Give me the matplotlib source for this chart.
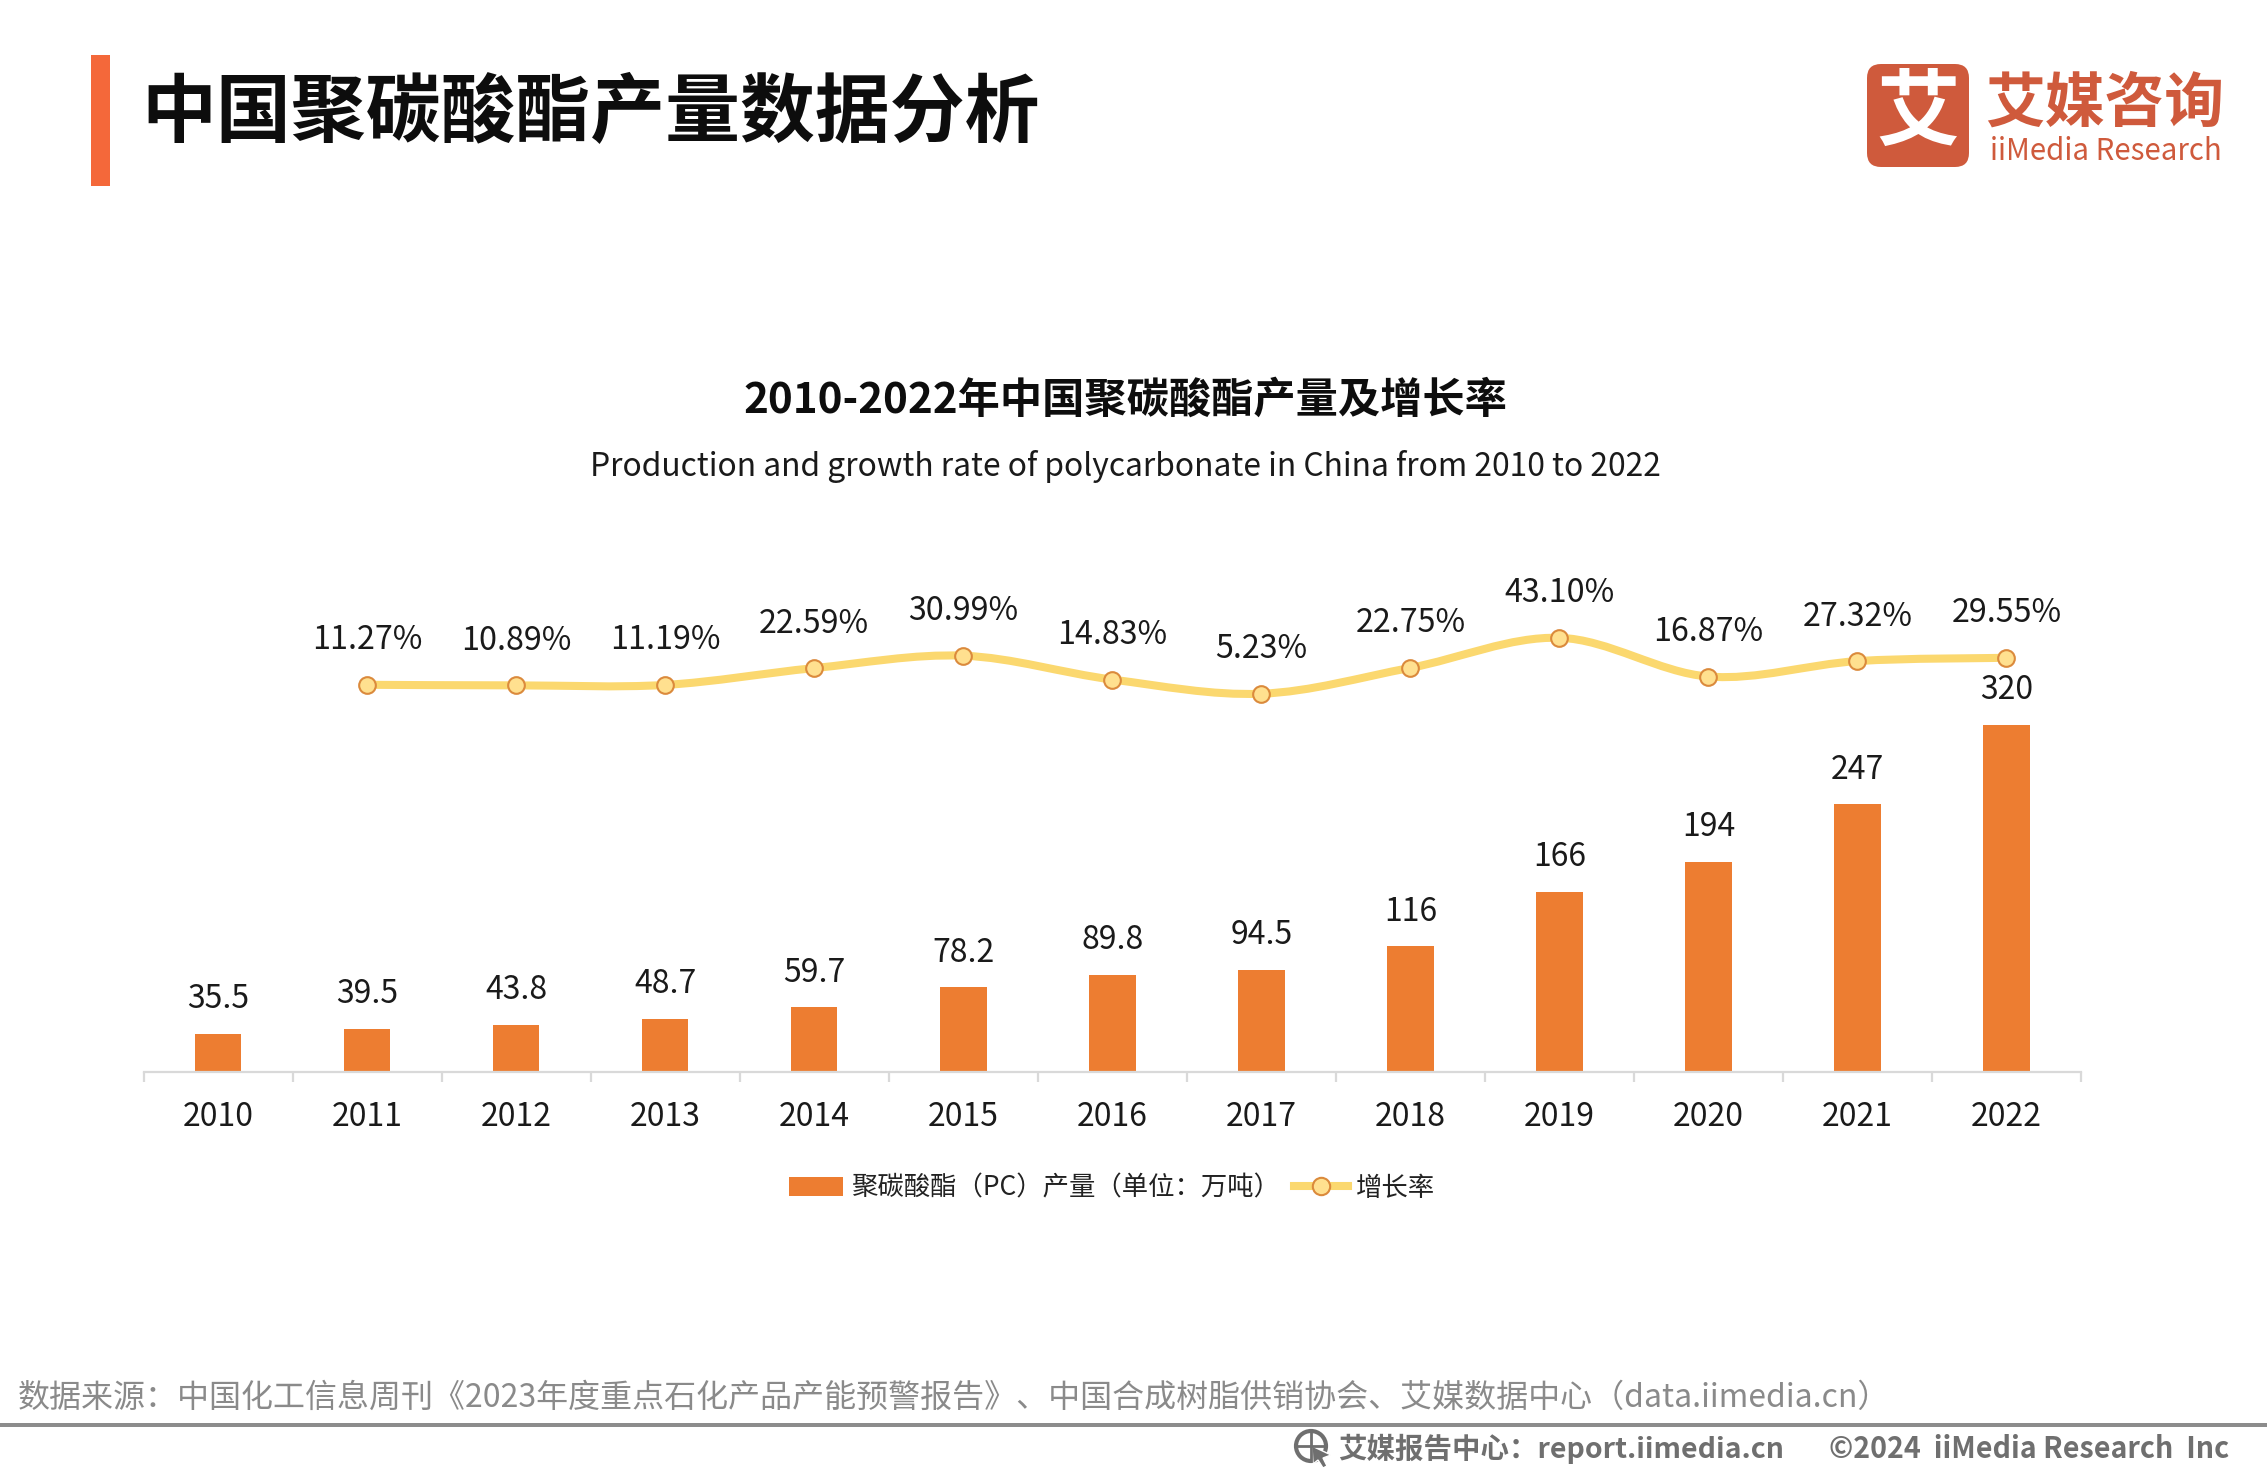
import matplotlib
matplotlib.use("Agg")
import matplotlib.pyplot as plt
import numpy as np
from matplotlib.patches import Rectangle, FancyBboxPatch, Circle, Patch, PathPatch, Polygon
from matplotlib.lines import Line2D
from matplotlib.path import Path

plt.rcParams['font.family'] = ['Noto Sans CJK SC', 'DejaVu Sans']

years = [2010, 2011, 2012, 2013, 2014, 2015, 2016, 2017, 2018, 2019, 2020, 2021, 2022]
output_labels = ['35.5', '39.5', '43.8', '48.7', '59.7', '78.2', '89.8', '94.5', '116', '166', '194', '247', '320']
output_values = [35.5, 39.5, 43.8, 48.7, 59.7, 78.2, 89.8, 94.5, 116, 166, 194, 247, 320]
growth_years = years[1:]
growth_values = [11.27, 10.89, 11.19, 22.59, 30.99, 14.83, 5.23, 22.75, 43.10, 16.87, 27.32, 29.55]
growth_labels = ['11.27%', '10.89%', '11.19%', '22.59%', '30.99%', '14.83%', '5.23%', '22.75%',
                 '43.10%', '16.87%', '27.32%', '29.55%']

W, H = 2267, 1474
BAR = '#ED7D31'
LINE = '#FBD86F'
fig = plt.figure(figsize=(W / 100, H / 100), dpi=100, facecolor='white')

# pixel-aligned chart axes
L, R, T, B = 143.5, 2081, 551, 1072
ax = fig.add_axes([L / W, 1 - B / H, (R - L) / W, (B - T) / H])
ax.set_xlim(-0.5, 12.5)
ax.set_ylim(0, (B - T) / 1.084)
x = np.arange(len(years))
ax.bar(x, output_values, width=0.313, color=BAR, zorder=2)
for xi, v, s in zip(x, output_values, output_labels):
    ax.annotate(s, (xi, v), xytext=(0, 25), textcoords='offset points', ha='center', va='center',
                fontsize=23, color='#1a1a1a', fontweight='light')
for s in ['top', 'left', 'right']:
    ax.spines[s].set_visible(False)
ax.spines['bottom'].set_color('#D9D9D9')
ax.spines['bottom'].set_linewidth(1.6)
ax.set_yticks([])
ax.set_xticks(x)
ax.set_xticklabels([str(y) for y in years], fontsize=23, color='#1a1a1a', fontweight='light')
ax.tick_params(axis='x', which='major', length=0, pad=21)
ax.set_xticks(np.arange(-0.5, 13), minor=True)
ax.tick_params(axis='x', which='minor', length=7, width=1.6, color='#D9D9D9')
ax.patch.set_alpha(0)

ax2 = ax.twinx()
ax2.set_ylim(-251.0, 101.9)
ax2.axis('off')
gx = np.array(growth_years, float) - years[0]
gy = np.array(growth_values, float)
# smooth line: Catmull-Rom segments as cubic Bezier path through the data points
verts = [(gx[0], gy[0])]
codes = [Path.MOVETO]
for i in range(len(gx) - 1):
    p0 = np.array([gx[max(i - 1, 0)], gy[max(i - 1, 0)]])
    p1 = np.array([gx[i], gy[i]])
    p2 = np.array([gx[i + 1], gy[i + 1]])
    p3 = np.array([gx[min(i + 2, len(gx) - 1)], gy[min(i + 2, len(gx) - 1)]])
    verts += [tuple(p1 + (p2 - p0) / 6), tuple(p2 - (p3 - p1) / 6), tuple(p2)]
    codes += [Path.CURVE4] * 3
ax2.add_patch(PathPatch(Path(verts, codes), fill=False, edgecolor=LINE, linewidth=5.8, capstyle='round', zorder=3))
ax2.plot(gx, gy, ls='none', marker='o', ms=12, mfc='#FFE08F', mec='#DB8A3C', mew=1.5, zorder=4)
for xi, v, s in zip(gx, gy, growth_labels):
    ax2.annotate(s, (xi, v), xytext=(0, 32), textcoords='offset points', ha='center', va='center',
                 fontsize=23.2, color='#1a1a1a', fontweight='light')

handles = [Patch(facecolor=BAR, edgecolor='none'),
           Line2D([], [], color=LINE, lw=5.8, marker='o', ms=12.5, mfc='#FFE08F', mec='#DB8A3C', mew=1.5)]
fig.legend(handles, ['聚碳酸酯（PC）产量（单位：万吨）', '增长率'], loc='center',
           bbox_to_anchor=(1112 / W, 1 - 1188 / H), ncol=2, frameon=False,
           handlelength=2.05, handleheight=0.75, handletextpad=0.3, columnspacing=0.5,
           labelcolor='#222222', prop={'size': 19, 'weight': 'light'})

# overlay in pixel coordinates for page furniture
ov = fig.add_axes([0, 0, 1, 1], zorder=5)
ov.set_xlim(0, W)
ov.set_ylim(H, 0)
ov.axis('off')
ov.patch.set_alpha(0)

ov.add_patch(Rectangle((91, 55), 19, 131, facecolor='#F4683A', edgecolor='none'))
ov.text(141, 114.5, '中国聚碳酸酯产量数据分析', fontsize=53.9, fontweight='bold', color='#0d0d0d', ha='left', va='center')

LOGO = '#CF5A3C'
ov.add_patch(FancyBboxPatch((1875, 72), 86, 87, boxstyle='round,pad=8,rounding_size=14', facecolor=LOGO, edgecolor='none'))
ov.text(1918, 114, '艾', fontsize=60, fontweight='bold', color='white', ha='center', va='center')
ov.text(2105, 105, '艾媒咨询', fontsize=43, fontweight='bold', color=LOGO, ha='center', va='center')
ov.text(2106, 151, 'iiMedia Research', fontsize=21.2, fontweight='medium', color=LOGO, ha='center', va='center')

ov.text(1125.5, 401, '2010-2022年中国聚碳酸酯产量及增长率', fontsize=30.4, fontweight='bold', color='#0d0d0d', ha='center', va='center')
ov.text(1125, 466, 'Production and growth rate of polycarbonate in China from 2010 to 2022', fontsize=22.9, color='#1a1a1a', ha='center', va='center', fontweight='light')

ov.text(18, 1398, '数据来源：中国化工信息周刊《2023年度重点石化产品产能预警报告》、中国合成树脂供销协会、艾媒数据中心（data.iimedia.cn）',
        fontsize=23.03, color='#8a8a8a', ha='left', va='center', fontweight='light')
ov.add_patch(Rectangle((0, 1423), W, 4, facecolor='#8c8c8c', edgecolor='none'))

GR = '#6f6f6f'
ov.add_patch(Circle((1311, 1446), 15, facecolor='none', edgecolor=GR, linewidth=3))
ov.plot([1296, 1326], [1446, 1446], color=GR, lw=2)
ov.plot([1311, 1311], [1431, 1461], color=GR, lw=2)
ov.add_patch(Polygon([(1312, 1446), (1331, 1455), (1323, 1458), (1327, 1466), (1323, 1468), (1318, 1460), (1313, 1464)],
                     facecolor=GR, edgecolor='white', linewidth=1))
ov.text(1338, 1449, '艾媒报告中心：report.iimedia.cn', fontsize=20.5, fontweight='bold', color=GR, ha='left', va='center')
ov.text(1829, 1449, '©2024  iiMedia Research  Inc', fontsize=20.6, fontweight='bold', color=GR, ha='left', va='center')

fig.savefig('out.png', dpi=100, facecolor='white')
